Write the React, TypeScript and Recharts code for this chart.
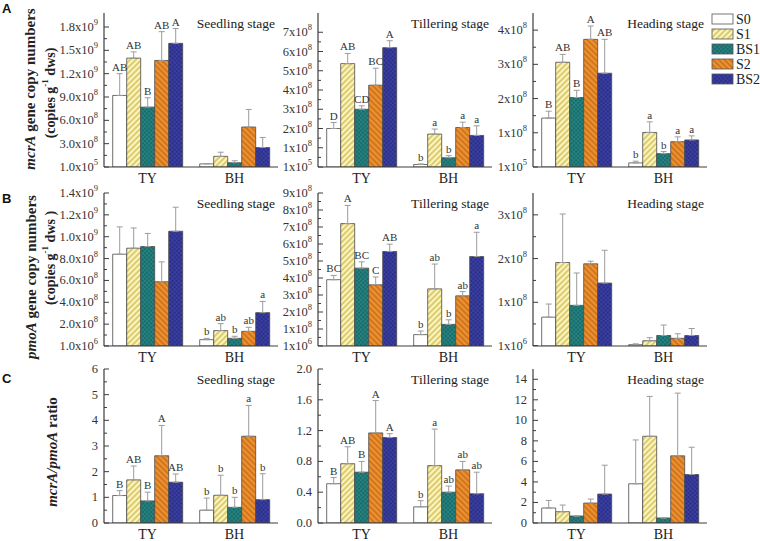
import React from 'react';
import { BarChart, Bar, XAxis, YAxis, ErrorBar, LabelList } from 'recharts';

const groups = ['TY', 'BH'];
const seriesNames = ['S0', 'S1', 'BS1', 'S2', 'BS2'];
const stages = ['Seedling stage', 'Tillering stage', 'Heading stage'];

// rows are [TY, BH], columns follow seriesNames. err = upper error bar length
const mcrASeedMean = [[9.2e8, 1.4e9, 7.7e8, 1.37e9, 1.59e9], [4.0e7, 1.37e8, 5.5e7, 5.14e8, 2.5e8]];
const mcrASeedErr = [[2.8e8, 0.8e8, 1.2e8, 3.7e8, 1.9e8], [0.5e7, 5.3e7, 2.5e7, 2.26e8, 1.3e8]];
const mcrASeedSig = [['AB', 'AB', 'B', 'AB', 'A'], ['', '', '', '', '']];

const mcrATillMean = [[2.0e8, 5.37e8, 3.0e8, 4.25e8, 6.2e8], [1.3e7, 1.71e8, 4.8e7, 2.05e8, 1.64e8]];
const mcrATillErr = [[0.31e8, 0.53e8, 0.18e8, 0.88e8, 0.36e8], [0.3e7, 0.26e8, 1.1e7, 0.28e8, 0.5e8]];
const mcrATillSig = [['D', 'AB', 'CD', 'BC', 'A'], ['b', 'a', 'b', 'a', 'a']];

const mcrAHeadMean = [[1.43e8, 3.06e8, 2.03e8, 3.73e8, 2.74e8], [1.2e7, 1.01e8, 3.9e7, 7.4e7, 7.9e7]];
const mcrAHeadErr = [[0.2e8, 0.23e8, 0.21e8, 0.39e8, 0.99e8], [0.5e7, 0.31e8, 0.6e7, 1.4e7, 1.2e7]];
const mcrAHeadSig = [['B', 'AB', 'B', 'A', 'AB'], ['b', 'a', 'b', 'a', 'a']];

const pmoASeedMean = [[8.4e8, 8.95e8, 9.1e8, 5.88e8, 1.05e9], [5.8e7, 1.41e8, 7.0e7, 1.34e8, 3.05e8]];
const pmoASeedErr = [[2.5e8, 1.85e8, 1.2e8, 1.82e8, 2.2e8], [1.2e7, 6.4e7, 1.9e7, 3.7e7, 1.03e8]];
const pmoASeedSig = [['', '', '', '', ''], ['b', 'ab', 'b', 'ab', 'a']];

const pmoATillMean = [[3.9e8, 7.2e8, 4.58e8, 3.6e8, 5.56e8], [6.7e7, 3.36e8, 1.27e8, 2.95e8, 5.26e8]];
const pmoATillErr = [[0.25e8, 1.07e8, 0.37e8, 0.46e8, 0.43e8], [2.1e7, 1.46e8, 2.7e7, 2.5e7, 1.43e8]];
const pmoATillSig = [['BC', 'A', 'BC', 'C', 'AB'], ['b', 'ab', 'b', 'ab', 'a']];

const pmoAHeadMean = [[6.6e7, 1.91e8, 9.3e7, 1.88e8, 1.44e8], [3e6, 1.2e7, 2.4e7, 1.75e7, 2.4e7]];
const pmoAHeadErr = [[3.0e7, 1.11e8, 7.4e7, 0.6e7, 7.5e7], [2e6, 7e6, 2.4e7, 1.05e7, 1.6e7]];
const pmoAHeadSig = [['', '', '', '', ''], ['', '', '', '', '']];

const ratioSeedMean = [[1.07, 1.68, 0.86, 2.62, 1.59], [0.5, 1.08, 0.61, 3.38, 0.91]];
const ratioSeedErr = [[0.19, 0.54, 0.34, 1.18, 0.32], [0.47, 0.78, 0.39, 1.2, 1.01]];
const ratioSeedSig = [['B', 'AB', 'B', 'A', 'AB'], ['b', 'b', 'b', 'a', 'b']];

const ratioTillMean = [[0.51, 0.77, 0.66, 1.17, 1.11], [0.21, 0.745, 0.4, 0.69, 0.38]];
const ratioTillErr = [[0.08, 0.22, 0.14, 0.42, 0.05], [0.08, 0.475, 0.08, 0.11, 0.28]];
const ratioTillSig = [['B', 'AB', 'B', 'A', 'A'], ['b', 'a', 'ab', 'ab', 'ab']];

const ratioHeadMean = [[1.46, 1.1, 0.68, 1.94, 2.82], [3.82, 8.45, 0.49, 6.54, 4.72]];
const ratioHeadErr = [[0.74, 0.65, 0, 0.39, 2.81], [4.27, 3.88, 0, 6.11, 2.66]];
const ratioHeadSig = [['', '', '', '', ''], ['', '', '', '', '']];

// y tick values and their labels ("^" marks the exponent)
const mcrASeedTicks = [1e5, 3e8, 6e8, 9e8, 1.2e9, 1.5e9, 1.8e9];
const mcrASeedLabels = ['1.0x10^5', '3.0x10^8', '6.0x10^8', '9.0x10^8', '1.2x10^9', '1.5x10^9', '1.8x10^9'];
const mcrATillTicks = [1e5, 1e8, 2e8, 3e8, 4e8, 5e8, 6e8, 7e8];
const mcrATillLabels = ['1x10^5', '1x10^8', '2x10^8', '3x10^8', '4x10^8', '5x10^8', '6x10^8', '7x10^8'];
const mcrAHeadTicks = [1e5, 1e8, 2e8, 3e8, 4e8];
const mcrAHeadLabels = ['1x10^5', '1x10^8', '2x10^8', '3x10^8', '4x10^8'];
const pmoASeedTicks = [1e6, 2e8, 4e8, 6e8, 8e8, 1e9, 1.2e9, 1.4e9];
const pmoASeedLabels = ['1.0x10^6', '2.0x10^8', '4.0x10^8', '6.0x10^8', '8.0x10^8', '1.0x10^9', '1.2x10^9', '1.4x10^9'];
const pmoATillTicks = [1e6, 1e8, 2e8, 3e8, 4e8, 5e8, 6e8, 7e8, 8e8, 9e8];
const pmoATillLabels = ['1x10^6', '1x10^8', '2x10^8', '3x10^8', '4x10^8', '5x10^8', '6x10^8', '7x10^8', '8x10^8', '9x10^8'];
const pmoAHeadTicks = [1e6, 1e8, 2e8, 3e8];
const pmoAHeadLabels = ['1x10^6', '1x10^8', '2x10^8', '3x10^8'];
const ratioSeedTicks = [0, 1, 2, 3, 4, 5, 6];
const ratioSeedLabels = ['0', '1', '2', '3', '4', '5', '6'];
const ratioTillTicks = [0, 0.4, 0.8, 1.2, 1.6, 2.0];
const ratioTillLabels = ['0.0', '0.4', '0.8', '1.2', '1.6', '2.0'];
const ratioHeadTicks = [0, 2, 4, 6, 8, 10, 12, 14];
const ratioHeadLabels = ['0', '2', '4', '6', '8', '10', '12', '14'];

const SERIF = '"Liberation Serif", "Times New Roman", serif';
const SANS = '"Liberation Sans", Arial, sans-serif';
const FRAME = '#3c3c3c';

const fills: Record<string, string> = {
  S0: '#ffffff',
  S1: 'url(#pS1)',
  BS1: 'url(#pBS1)',
  S2: 'url(#pS2)',
  BS2: 'url(#pBS2)',
};

const COL_X = [104, 318, 533];
const ROW_Y = [13, 193, 369];
const ROW_H = [154, 153, 154];
const PW = 174;
const AXW = 80;
const TOP = 14;
const RIGHT = 6;
const XH = 30;

const panels = [
  { row: 0, col: 0, mean: mcrASeedMean, err: mcrASeedErr, sig: mcrASeedSig, max: 1.98e9, ticks: mcrASeedTicks, labels: mcrASeedLabels },
  { row: 0, col: 1, mean: mcrATillMean, err: mcrATillErr, sig: mcrATillSig, max: 8e8, ticks: mcrATillTicks, labels: mcrATillLabels },
  { row: 0, col: 2, mean: mcrAHeadMean, err: mcrAHeadErr, sig: mcrAHeadSig, max: 4.5e8, ticks: mcrAHeadTicks, labels: mcrAHeadLabels },
  { row: 1, col: 0, mean: pmoASeedMean, err: pmoASeedErr, sig: pmoASeedSig, max: 1.4e9, ticks: pmoASeedTicks, labels: pmoASeedLabels },
  { row: 1, col: 1, mean: pmoATillMean, err: pmoATillErr, sig: pmoATillSig, max: 9e8, ticks: pmoATillTicks, labels: pmoATillLabels },
  { row: 1, col: 2, mean: pmoAHeadMean, err: pmoAHeadErr, sig: pmoAHeadSig, max: 3.5e8, ticks: pmoAHeadTicks, labels: pmoAHeadLabels },
  { row: 2, col: 0, mean: ratioSeedMean, err: ratioSeedErr, sig: ratioSeedSig, max: 6, ticks: ratioSeedTicks, labels: ratioSeedLabels },
  { row: 2, col: 1, mean: ratioTillMean, err: ratioTillErr, sig: ratioTillSig, max: 2, ticks: ratioTillTicks, labels: ratioTillLabels },
  { row: 2, col: 2, mean: ratioHeadMean, err: ratioHeadErr, sig: ratioHeadSig, max: 15, ticks: ratioHeadTicks, labels: ratioHeadLabels },
];

const toRows = (mean: number[][], err: number[][], sig: string[][]) =>
  groups.map((g, gi) => {
    const row: any = { name: g };
    seriesNames.forEach((s, si) => {
      row[s] = mean[gi][si];
      row[s + '_err'] = [0, err[gi][si]];
      row[s + '_sig'] = sig[gi][si];
    });
    return row;
  });

const SciText = ({ x, y, label }: any) => {
  const [base, exp] = label.split('^');
  return (
    <text x={x} y={y} textAnchor="end" dominantBaseline="central" fontSize={12.5} fill="#333" fontFamily={SERIF}>
      <tspan>{base}</tspan>
      {exp && <tspan dy={-5} fontSize={8.5}>{exp}</tspan>}
    </text>
  );
};

const YTick = ({ x, y, payload, major, labels }: any) => {
  const i = major.indexOf(payload.value);
  return (
    <g>
      <line x1={x} x2={x + (i >= 0 ? 5 : 3)} y1={y} y2={y} stroke={FRAME} strokeWidth={1} />
      {i >= 0 && <SciText x={x - 6} y={y} label={labels[i]} />}
    </g>
  );
};

const renderSig = (lp: any, rows: any[], s: string) => {
  const { value, index } = lp;
  if (!value) return null;
  const vb = lp.viewBox || lp;
  const row = rows[index];
  const v = row[s];
  const d = row[s + '_err'][1];
  const top = vb.y - (v ? (d * vb.height) / v : 0);
  return (
    <text key={s + index} x={vb.x + vb.width / 2} y={top - 3} textAnchor="middle" fontSize={11} fill="#333" fontFamily={SERIF}>
      {value}
    </text>
  );
};

function Panel({ p }: any) {
  const rows = toRows(p.mean, p.err, p.sig);
  const minor = p.ticks.slice(1).map((t: number, i: number) => (t + p.ticks[i]) / 2);
  const allTicks = [...p.ticks, ...minor].sort((a, b) => a - b);
  const ph = ROW_H[p.row];
  const axisLine = { stroke: FRAME, strokeWidth: 1.2 };
  return (
    <div style={{ position: 'absolute', left: COL_X[p.col] - AXW, top: ROW_Y[p.row] - TOP }}>
      <BarChart
        width={AXW + PW + RIGHT}
        height={TOP + ph + XH}
        data={rows}
        margin={{ top: TOP, right: RIGHT, left: 0, bottom: 0 }}
        barGap={0}
        barCategoryGap="10%"
      >
        <XAxis
          dataKey="name"
          height={XH}
          tickLine={false}
          tickSize={0}
          tickMargin={6}
          axisLine={axisLine}
          tick={{ fontSize: 14, fill: '#222', fontFamily: SERIF }}
        />
        <XAxis xAxisId="top" dataKey="name" orientation="top" height={0} tick={false} tickLine={false} axisLine={axisLine} />
        <YAxis
          width={AXW}
          domain={[0, p.max]}
          allowDataOverflow
          ticks={allTicks}
          interval={0}
          tickSize={0}
          tickMargin={0}
          tickLine={false}
          axisLine={axisLine}
          tick={<YTick major={p.ticks} labels={p.labels} />}
        />
        <YAxis yAxisId="right" orientation="right" width={0} domain={[0, 1]} tick={false} tickLine={false} axisLine={axisLine} />
        {seriesNames.map((s) => (
          <Bar key={s} dataKey={s} fill={fills[s]} stroke="#4a4a4a" strokeWidth={0.8} isAnimationActive={false}>
            <ErrorBar dataKey={s + '_err'} width={3} stroke="#9c9c9c" strokeWidth={1} direction="y" />
            <LabelList dataKey={s + '_sig'} content={(lp: any) => renderSig(lp, rows, s)} />
          </Bar>
        ))}
      </BarChart>
    </div>
  );
}

const Overlay = () => (
  <svg width={760} height={541} style={{ position: 'absolute', left: 0, top: 0 }}>
    <defs>
      <pattern id="pS1" patternUnits="userSpaceOnUse" width={4} height={4} patternTransform="rotate(45)">
        <rect width={4} height={4} fill="#fbf5bf" />
        <line x1={2} y1={0} x2={2} y2={4} stroke="#d4bd55" strokeWidth={1.5} />
      </pattern>
      <pattern id="pS2" patternUnits="userSpaceOnUse" width={4} height={4} patternTransform="rotate(-45)">
        <rect width={4} height={4} fill="#f0922c" />
        <line x1={2} y1={0} x2={2} y2={4} stroke="#b8621c" strokeWidth={1.2} />
      </pattern>
      <pattern id="pBS1" patternUnits="userSpaceOnUse" width={3} height={3} patternTransform="rotate(45)">
        <rect width={3} height={3} fill="#156c6b" />
        <path d="M0 1.5H3M1.5 0V3" stroke="#2f8886" strokeWidth={0.7} />
      </pattern>
      <pattern id="pBS2" patternUnits="userSpaceOnUse" width={3} height={3} patternTransform="rotate(45)">
        <rect width={3} height={3} fill="#2a2e88" />
        <path d="M0 1.5H3M1.5 0V3" stroke="#4046a8" strokeWidth={0.7} />
      </pattern>
    </defs>

    <text x={2} y={13} fontSize={13} fontWeight="bold" fontFamily={SANS} fill="#111">A</text>
    <text x={2} y={203} fontSize={13} fontWeight="bold" fontFamily={SANS} fill="#111">B</text>
    <text x={2} y={383} fontSize={13} fontWeight="bold" fontFamily={SANS} fill="#111">C</text>

    <g fontFamily={SERIF} fontWeight="bold" fill="#222">
      <text transform="translate(30,89) rotate(-90)" textAnchor="middle" dominantBaseline="central" fontSize={15}>
        <tspan fontStyle="italic">mcrA</tspan> gene copy numbers
      </text>
      <text transform="translate(50,93) rotate(-90)" textAnchor="middle" dominantBaseline="central" fontSize={14}>
        <tspan>(copies g</tspan>
        <tspan dy={-5} fontSize={9}>-1</tspan>
        <tspan dy={5}> dws)</tspan>
      </text>
      <text transform="translate(31,277) rotate(-90)" textAnchor="middle" dominantBaseline="central" fontSize={15}>
        <tspan fontStyle="italic">pmoA</tspan>  gene copy numbers
      </text>
      <text transform="translate(50,258) rotate(-90)" textAnchor="middle" dominantBaseline="central" fontSize={14}>
        <tspan>(copies g</tspan>
        <tspan dy={-5} fontSize={9}>-1</tspan>
        <tspan dy={5}>  dws )</tspan>
      </text>
      <text transform="translate(52,452) rotate(-90)" textAnchor="middle" dominantBaseline="central" fontSize={15}>
        <tspan fontStyle="italic">mcrA/pmoA</tspan> ratio
      </text>
    </g>

    {ROW_Y.map((ry) =>
      COL_X.map((cx, ci) => (
        <text key={ry + '-' + ci} x={cx + PW - 3} y={ry + 15} textAnchor="end" fontSize={13.5} fill="#222" fontFamily={SERIF}>
          {stages[ci]}
        </text>
      ))
    )}

    {seriesNames.map((s, i) => (
      <g key={s}>
        <rect x={712} y={14 + i * 15} width={21} height={10} fill={fills[s]} stroke="#555" strokeWidth={0.8} />
        <text x={736} y={19 + i * 15} dominantBaseline="central" fontSize={14} fill="#222" fontFamily={SERIF}>
          {s}
        </text>
      </g>
    ))}
  </svg>
);

export default function App() {
  return (
    <div style={{ position: 'absolute', left: 0, top: 0, width: 760, height: 541, background: '#fff' }}>
      <Overlay />
      {panels.map((p, i) => (
        <Panel key={i} p={p} />
      ))}
    </div>
  );
}
